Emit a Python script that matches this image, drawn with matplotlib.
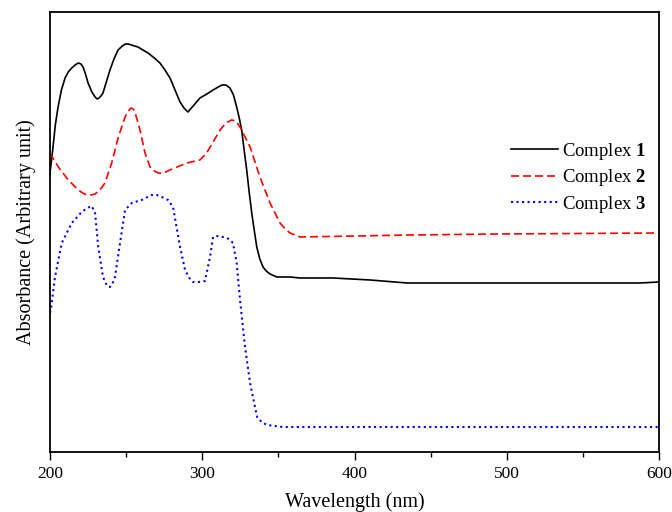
import numpy as np
import matplotlib.pyplot as plt
from matplotlib.ticker import MultipleLocator

plt.rcParams['font.family'] = ['Liberation Serif', 'DejaVu Serif']
plt.rcParams['mathtext.fontset'] = 'custom'
plt.rcParams['mathtext.rm'] = 'Liberation Serif'
plt.rcParams['mathtext.bf'] = 'Liberation Serif:bold'

# UV-Vis spectra, absorbance in arbitrary units (curves offset vertically)
wl_1 = [200, 201.0, 202.0, 203.5, 205.3, 207.5, 209.9, 212.0, 214.3, 216.5,
        218.6, 220.3, 221.7, 223.3, 225.0, 227.5, 229.6, 231.0, 232.2, 233.5,
        234.8, 237.0, 239.4, 242.0, 244.7, 247.5, 249.5, 251.2, 253.5, 255.5,
        257.8, 261.0, 264.4, 268.5, 272.2, 275.5, 278.8, 282.1, 285.4, 288.0,
        290.6, 294.0, 298.5, 303.0, 307.1, 310.5, 313.0, 315.5, 318.2, 320.5,
        322.6, 324.3, 325.9, 327.5, 329.2, 330.8, 332.5, 334.2, 335.8, 337.8,
        339.9, 342.0, 344.5, 348.9, 357.6, 364.2, 385.9, 410.2, 434.5, 456.1,
        493.6, 535.0, 587.5, 600]
abs_1 = [279, 292, 305, 327, 345, 362, 374, 380, 384, 387,
         389, 388, 385, 378, 369, 360, 355, 353, 354, 356,
         359, 370, 382, 393, 402, 406, 408, 408, 407, 406,
         405, 402, 399, 394, 389, 382, 374, 362, 350, 344,
         340, 346, 354, 358, 362, 365, 367, 367, 364, 357,
         345, 334, 322, 302, 282, 260, 239, 221, 205, 193,
         185, 181, 178, 175, 175, 174, 174, 172, 169, 169,
         169, 169, 169, 170]

wl_2 = [200, 200.7, 205.5, 212.0, 218.6, 221.5, 224.1, 226.8, 229.6, 232.8,
        236.1, 240.5, 244.9, 249.3, 251.5, 253.2, 254.6, 255.8, 259.1, 262.4,
        265.7, 268.5, 271.1, 274.5, 278.8, 289.8, 298.5, 302.9, 307.5, 311.7,
        315.5, 319.3, 322.0, 324.8, 331.4, 337.9, 344.5, 351.1, 354.5, 357.6,
        364.2, 401.6, 436.5, 495.6, 600]
abs_2 = [299, 297, 285, 272, 262, 259, 257, 257, 258, 262,
         269, 289, 315, 335, 341, 344, 343, 340, 322, 299,
         285, 281, 279, 279, 282, 289, 292, 299, 311, 322,
         329, 332, 331, 325, 305, 275, 249, 229, 223, 219,
         215, 216, 217, 218, 219]

wl_3 = [200, 200.7, 203.3, 207.7, 214.3, 220.8, 224.5, 227.4, 229.6, 231.7,
        234.8, 237.5, 239.4, 241.0, 242.7, 246.0, 249.3, 253.7, 260.2, 266.8,
        270.0, 273.4, 277.5, 280.8, 285.4, 288.7, 291.5, 293.9, 297.8, 301.8,
        305.1, 307.1, 310.3, 313.6, 317.5, 320.2, 322.6, 324.8, 328.1, 331.4,
        336.0, 339.0, 342.5, 347.5, 353.0, 390.5, 600]
abs_3 = [139, 144, 175, 209, 229, 240, 244, 246, 239, 205,
         175, 166, 165, 168, 175, 209, 242, 249, 252, 257,
         257, 255, 252, 245, 205, 182, 174, 170, 170, 171,
         195, 215, 216, 215, 213, 209, 189, 152, 105, 69,
         35, 30, 27, 26, 25, 25, 25]

fig = plt.figure(figsize=(6.72, 5.12), dpi=100)
ax = fig.add_axes([0.0744, 0.1172, 0.9063, 0.8594])

ax.plot(wl_1, abs_1, color='black', lw=1.2, label=r'Complex $\mathbf{1}$')
ax.plot(wl_2, abs_2, color='red', lw=1.2, linestyle=(0, (4.8, 2.4)),
        label=r'Complex $\mathbf{2}$')
ax.plot(wl_3, abs_3, color='blue', lw=1.5, linestyle=':',
        label=r'Complex $\mathbf{3}$')

ax.set_xlim(200, 600)
ax.set_ylim(0, 440)
ax.xaxis.set_major_locator(MultipleLocator(100))
ax.xaxis.set_minor_locator(MultipleLocator(50))
ax.tick_params(axis='x', which='major', direction='out', length=5.8, width=1.0,
               labelsize=12.5, pad=4)
ax.tick_params(axis='x', which='minor', direction='out', length=3.4, width=1.0)
ax.set_yticks([])
for sp in ax.spines.values():
    sp.set_linewidth(1.3)

ax.set_xlabel('Wavelength (nm)', fontsize=14.5, labelpad=8)
ax.set_ylabel('Absorbance (Arbitrary unit)', fontsize=14.5, labelpad=10)

ax.legend(loc='center left', bbox_to_anchor=(0.757, 0.623), frameon=False,
          fontsize=13.5, handlelength=2.5, handletextpad=0.2, labelspacing=0.3,
          borderpad=0, borderaxespad=0)

fig.savefig('out.png', dpi=100)
